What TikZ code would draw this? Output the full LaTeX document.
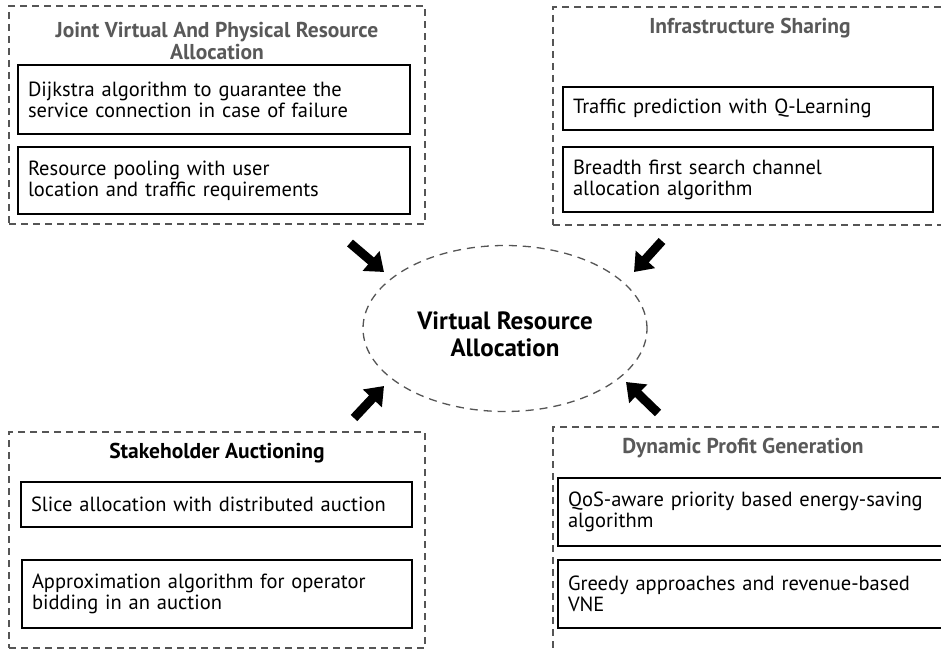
\documentclass[tikz,border=0pt]{standalone}
\usepackage{fontspec}
\setmainfont{PT Sans}
\usetikzlibrary{arrows.meta,shapes.geometric}
\definecolor{dashgray}{HTML}{555555}
\definecolor{titlegray}{HTML}{595959}
\tikzset{
  group/.style={draw=dashgray, dashed, dash pattern=on 7pt off 5pt, line width=1.3pt,
    rectangle, inner sep=0pt},
  itembox/.style={draw=black, line width=1.4pt, rectangle, inner xsep=10pt, inner ysep=0pt,
    align=left, font=\fontsize{20.5}{21}\selectfont},
  grouptitle/.style={align=center, font=\bfseries\fontsize{21.5}{22}\selectfont, text=titlegray},
  centre/.style={ellipse, draw=dashgray, dashed, dash pattern=on 8pt off 6pt, line width=1.3pt,
    inner sep=0pt},
  centretext/.style={align=center, font=\bfseries\fontsize{25}{27}\selectfont},
  bigarrow/.style={line width=9pt, -{Triangle[length=17pt,width=25pt]}, black}
}
\begin{document}
\begin{tikzpicture}[x=1pt,y=-1pt]
\useasboundingbox (0,0) rectangle (941,650);
\clip (0,0) rectangle (941,650);

% group frames
\node[group, minimum width=416pt, minimum height=218pt] (gjoint) at (217,115) {};
\node[group, minimum width=397pt, minimum height=218pt] (gshare) at (751.5,116) {};
\node[group, minimum width=416pt, minimum height=216pt] (gauction) at (217,540) {};
\node[group, minimum width=397pt, minimum height=240pt] (gprofit) at (751.5,547) {};

% group titles
\node[grouptitle] (tjoint) at (217,41) {Joint Virtual And Physical Resource\\Allocation};
\node[grouptitle] (tshare) at (750,28) {Infrastructure Sharing};
\node[grouptitle, text=black] (tauction) at (217,453) {Stakeholder Auctioning};
\node[grouptitle] (tprofit) at (743,448) {Dynamic Profit Generation};

% items
\node[itembox, text width=372pt, minimum height=69pt] (j1) at (214,99.5)
  {Dijkstra algorithm to guarantee the\\service connection in case of failure};
\node[itembox, text width=372pt, minimum height=67pt] (j2) at (214,180.5)
  {Resource pooling with user\\location and traffic requirements};
\node[itembox, text width=350pt, minimum height=43pt] (s1) at (748,108.5)
  {Traffic prediction with Q-Learning};
\node[itembox, text width=350pt, minimum height=65pt] (s2) at (748,179.5)
  {Breadth first search channel\\allocation algorithm};
\node[itembox, text width=371pt, minimum height=45pt] (a1) at (216.5,504.5)
  {Slice allocation with distributed auction};
\node[itembox, text width=370pt, minimum height=68pt] (a2) at (217,594)
  {Approximation algorithm for operator\\bidding in an auction};
\node[itembox, text width=367pt, minimum height=68pt] (p1) at (751.5,512)
  {QoS-aware priority based energy-saving\\algorithm};
\node[itembox, text width=367pt, minimum height=68pt] (p2) at (751.5,594)
  {Greedy approaches and revenue-based\\VNE};

% central topic
\node[centre, minimum width=284pt, minimum height=166pt] (vra) at (505,328.5) {};
\node[centretext] (vralabel) at (505,334) {Virtual Resource\\Allocation};

% arrows pointing at the central topic
\coordinate (ajs) at (350,243);
\coordinate (aje) at (384,272);
\coordinate (ass) at (662,241);
\coordinate (ase) at (634,272);
\coordinate (aas) at (354,418);
\coordinate (aae) at (384,386);
\coordinate (aps) at (658,413);
\coordinate (ape) at (626,382);
\draw[bigarrow] (ajs) -- (aje);
\draw[bigarrow] (ass) -- (ase);
\draw[bigarrow] (aas) -- (aae);
\draw[bigarrow] (aps) -- (ape);
\end{tikzpicture}
\end{document}
